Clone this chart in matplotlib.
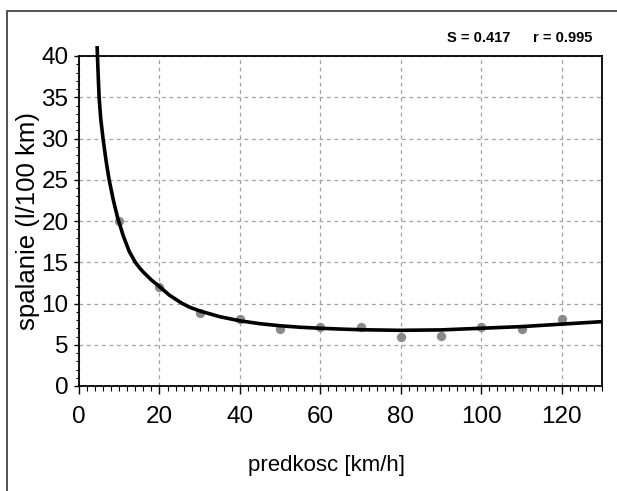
import matplotlib
matplotlib.use("Agg")
import matplotlib.pyplot as plt
from matplotlib.ticker import MultipleLocator
from matplotlib.patches import Rectangle

# measured points
speed = [10, 20, 30, 40, 50, 60, 70, 80, 90, 100, 110, 120]
consumption = [20, 12, 8.9, 8.1, 6.9, 7.1, 7.1, 6.0, 6.1, 7.1, 6.9, 8.1]

# fitted curve
curve_x = [4.5, 4.75, 5.0, 5.4, 6.0, 6.7, 7.45, 8.5, 9.6, 11, 12.5, 14, 15, 16, 18, 20,
           22.5, 25.5, 27.5, 30, 35, 40, 45, 50, 55, 60, 65, 70, 80, 90, 100, 110,
           120, 130]
curve_y = [41.2, 37.9, 35.0, 32.4, 29.9, 27.4, 25.1, 22.6, 20.4, 18.2, 16.3, 15.0,
           14.35, 13.8, 12.85, 12.05, 11.0, 10.05, 9.55, 9.1, 8.4, 7.9, 7.55, 7.3,
           7.12, 7.0, 6.9, 6.82, 6.75, 6.8, 7.0, 7.2, 7.5, 7.8]

x_ticks = [0, 20, 40, 60, 80, 100, 120]
y_ticks = [0, 5, 10, 15, 20, 25, 30, 35, 40]
s_text = "S = 0.417"
r_text = "r = 0.995"
x_label = "predkosc [km/h]"
y_label = "spalanie (l/100 km)"

plt.rcParams['font.family'] = ['Liberation Sans', 'DejaVu Sans']

W, H = 617, 491
L, R, T, B = 79, 602, 56, 386
fig = plt.figure(figsize=(W / 100, H / 100), dpi=100)
ax = fig.add_axes([L / W, 1 - B / H, (R - L) / W, (B - T) / H])

# outer frame
fig.patches.append(Rectangle((7 / W, -0.05), 1.2, (H - 11) / H + 0.05,
                             transform=fig.transFigure, fill=False,
                             edgecolor='#444444', linewidth=1.3))

ax.set_xlim(0, 130)
ax.set_ylim(0, 40)
ax.set_xticks(x_ticks)
ax.set_yticks(y_ticks)
ax.xaxis.set_minor_locator(MultipleLocator(2))
ax.yaxis.set_minor_locator(MultipleLocator(1))
ax.tick_params(which='major', direction='out', width=1, labelsize=17.5)
ax.tick_params(axis='y', which='major', length=3.6, pad=4)
ax.tick_params(axis='y', which='minor', length=2.2, width=0.8)
ax.tick_params(axis='x', which='major', length=5.8, pad=8.6)
ax.tick_params(axis='x', which='minor', length=3.6, width=0.8)

ax.grid(True, which='major', color='#a0a0a0', linestyle=(0, (3, 3)), linewidth=0.9)
ax.set_axisbelow(True)

for s in ax.spines.values():
    s.set_linewidth(1.3)
    s.set_color('black')

ax.scatter(speed, consumption, s=45, color='#8a8a8a', zorder=3, linewidths=0)
ax.plot(curve_x, curve_y, color='black', linewidth=2.6, zorder=4, clip_on=False,
        solid_capstyle='butt', solid_joinstyle='round')

ax.set_xlabel(x_label, fontsize=16)
ax.xaxis.set_label_coords((327 - L) / (R - L), -(455 - B) / (B - T))
ax.set_ylabel(y_label, fontsize=18.5)
ax.yaxis.label.set_va('center')
ax.yaxis.set_label_coords(-(L - 28.5) / (R - L), 0.5)

fig.text(447 / W, 1 - 38 / H, s_text, fontsize=10.5, fontweight='bold',
         ha='left', va='center')
fig.text(592 / W, 1 - 38 / H, r_text, fontsize=10.5, fontweight='bold',
         ha='right', va='center')

fig.savefig("out.png", dpi=100)
